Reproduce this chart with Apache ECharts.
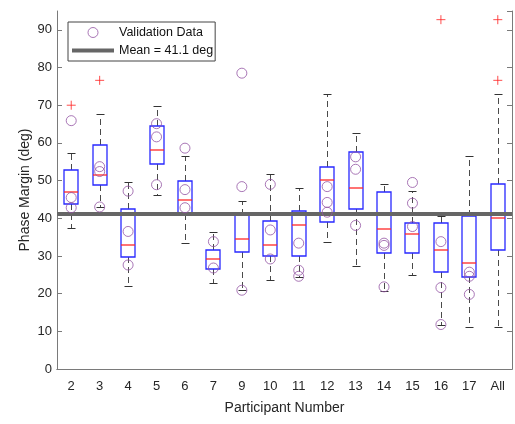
<!DOCTYPE html>
<html>
<head>
<meta charset="utf-8">
<script src="https://cdn.jsdelivr.net/npm/echarts@6/dist/echarts.min.js"></script>
<style>
html, body { margin: 0; padding: 0; background: #fff; }
#chart { width: 515px; height: 424px; }
</style>
</head>
<body>
<div id="chart"></div>
<script>
// participants on the x axis
var categories = ['2', '3', '4', '5', '6', '7', '9', '10', '11', '12', '13', '14', '15', '16', '17', 'All'];

// box statistics per participant (deg)
var whiskerLow  = [37.5, 43.0, 22.1, 46.1, 33.4, 22.9, 20.9, 23.6, 24.5, 33.6, 27.3, 20.8, 24.9, 11.8, 11.2, 11.2];
var q1          = [43.8, 48.9, 29.7, 54.5, 41.0, 26.6, 31.1, 30.0, 30.1, 39.1, 42.4, 30.8, 30.7, 25.7, 24.5, 31.5];
var median      = [47.0, 51.4, 33.0, 58.0, 44.8, 29.2, 34.6, 33.0, 38.2, 50.2, 48.1, 37.2, 35.9, 31.6, 28.0, 40.0];
var q3          = [52.7, 59.5, 42.5, 64.4, 49.9, 31.6, 40.8, 39.3, 42.0, 53.5, 57.6, 47.1, 38.7, 38.7, 40.5, 49.2];
var whiskerHigh = [57.3, 67.6, 49.5, 69.9, 56.6, 36.3, 44.7, 51.7, 48.1, 72.9, 62.5, 49.2, 47.2, 40.5, 56.6, 72.9];

// outliers [participant, value]
var outliers = [['2', 70.0], ['3', 76.6], ['16', 92.7], ['All', 92.7], ['All', 76.6]];

// validation data points [participant, value]
var validation = [
  ['2', 65.9], ['2', 45.5], ['2', 42.8],
  ['3', 53.7], ['3', 52.4], ['3', 43.0],
  ['4', 47.2], ['4', 36.5], ['4', 27.6],
  ['5', 65.1], ['5', 61.6], ['5', 48.9],
  ['6', 58.6], ['6', 47.6], ['6', 42.8],
  ['7', 33.8], ['7', 26.8],
  ['9', 78.5], ['9', 48.4], ['9', 20.9],
  ['10', 49.0], ['10', 36.9], ['10', 29.2],
  ['11', 33.4], ['11', 26.2], ['11', 24.6],
  ['12', 48.4], ['12', 44.2], ['12', 41.6],
  ['13', 56.3], ['13', 53.0], ['13', 38.1],
  ['14', 33.4], ['14', 32.8], ['14', 21.8],
  ['15', 49.5], ['15', 44.0], ['15', 37.8],
  ['16', 33.8], ['16', 21.6], ['16', 11.8],
  ['17', 25.7], ['17', 24.6], ['17', 19.8]
];

var meanValue = 41.1;

var boxData = categories.map(function (c, i) {
  return [i, whiskerLow[i], q1[i], median[i], q3[i], whiskerHigh[i]];
});

var font = 'Liberation Sans, Arial, Helvetica, sans-serif';
var axisColor = '#7a7a7a';
var purple = '#9455a4';

// pixel positions of one box, from the axes
function boxGeom(api) {
  var x = api.value(0);
  var band = api.size([1, 0])[0];
  var bw = Math.round(band * 0.5);
  var cx = Math.round(api.coord([x, api.value(3)])[0]);
  return {
    cx: cx,
    left: cx - bw / 2,
    bw: bw,
    cw: Math.round(band * 0.25),
    lo: Math.round(api.coord([x, api.value(1)])[1]),
    b1: Math.round(api.coord([x, api.value(2)])[1]),
    md: Math.round(api.coord([x, api.value(3)])[1]),
    b3: Math.round(api.coord([x, api.value(4)])[1]),
    hi: Math.round(api.coord([x, api.value(5)])[1])
  };
}

function renderWhiskers(params, api) {
  var g = boxGeom(api);
  var wx = g.cx + 0.5;
  var dash = { stroke: '#4a4a4a', lineWidth: 1, lineDash: [6, 4] };
  var cap = { stroke: '#333', lineWidth: 1 };
  return {
    type: 'group',
    children: [
      { type: 'line', shape: { x1: wx, y1: g.b3, x2: wx, y2: g.hi }, style: dash },
      { type: 'line', shape: { x1: wx, y1: g.b1, x2: wx, y2: g.lo }, style: dash },
      { type: 'line', shape: { x1: g.cx - g.cw / 2, y1: g.hi + 0.5, x2: g.cx + g.cw / 2 + 1, y2: g.hi + 0.5 }, style: cap },
      { type: 'line', shape: { x1: g.cx - g.cw / 2, y1: g.lo + 0.5, x2: g.cx + g.cw / 2 + 1, y2: g.lo + 0.5 }, style: cap }
    ]
  };
}

function renderBoxes(params, api) {
  var g = boxGeom(api);
  return {
    type: 'rect',
    shape: { x: g.left, y: g.b3, width: g.bw, height: g.b1 - g.b3 },
    style: { fill: 'none', stroke: '#2828ff', lineWidth: 1.3 }
  };
}

function renderMedians(params, api) {
  var g = boxGeom(api);
  return {
    type: 'line',
    shape: { x1: g.left, y1: g.md, x2: g.left + g.bw, y2: g.md },
    style: { stroke: '#ff2828', lineWidth: 1.3 }
  };
}

var chart = echarts.init(document.getElementById('chart'));

var option = {
  animation: false,
  textStyle: { fontFamily: font },
  grid: { left: 57, right: 3, top: 11, bottom: 55 },
  legend: {
    left: 68, top: 22,
    orient: 'vertical',
    itemWidth: 42, itemHeight: 10, itemGap: 5,
    padding: [4, 2, 4, 4],
    borderColor: '#444', borderWidth: 1,
    backgroundColor: '#fff',
    textStyle: { fontSize: 12.5, color: '#111', fontFamily: font },
    data: [
      { name: 'Validation Data', icon: 'circle',
        itemStyle: { color: '#fff', borderColor: purple, borderWidth: 1 } },
      { name: 'Mean = 41.1 deg', icon: 'path://M0,0L42,0L42,4L0,4Z',
        itemStyle: { color: '#666', borderWidth: 0 } }
    ]
  },
  xAxis: [{
    type: 'category',
    data: categories,
    position: 'bottom',
    name: 'Participant Number',
    nameLocation: 'middle',
    nameGap: 32,
    nameMoveOverlap: false,
    nameTextStyle: { fontSize: 14, color: '#262626', fontFamily: font },
    axisLine: { lineStyle: { color: axisColor } },
    axisTick: { inside: true, alignWithLabel: true, length: 5, lineStyle: { color: axisColor } },
    axisLabel: { fontSize: 13, color: '#262626', margin: 11, fontFamily: font },
    splitLine: { show: false }
  }, {
    type: 'category',
    data: categories,
    position: 'top',
    axisLine: { lineStyle: { color: axisColor } },
    axisTick: { inside: true, alignWithLabel: true, length: 5, lineStyle: { color: axisColor } },
    axisLabel: { show: false },
    splitLine: { show: false }
  }],
  yAxis: [{
    type: 'value',
    min: 0, max: 95, interval: 10,
    position: 'left',
    name: 'Phase Margin (deg)',
    nameLocation: 'middle',
    nameGap: 25,
    nameMoveOverlap: false,
    nameTextStyle: { fontSize: 14, color: '#262626', fontFamily: font },
    axisLine: { show: true, lineStyle: { color: axisColor } },
    axisTick: { show: true, inside: true, length: 5, lineStyle: { color: axisColor } },
    axisLabel: { fontSize: 13, color: '#262626', margin: 5, showMaxLabel: false, fontFamily: font },
    splitLine: { show: false }
  }, {
    type: 'value',
    min: 0, max: 95, interval: 10,
    position: 'right',
    axisLine: { show: true, lineStyle: { color: axisColor } },
    axisTick: { show: true, inside: true, length: 5, lineStyle: { color: axisColor } },
    axisLabel: { show: false },
    splitLine: { show: false }
  }],
  series: [{
    name: 'whiskers',
    type: 'custom',
    renderItem: renderWhiskers,
    encode: { x: 0, y: [1, 2, 3, 4, 5] },
    data: boxData,
    z: 2
  }, {
    name: 'boxes',
    type: 'custom',
    renderItem: renderBoxes,
    encode: { x: 0, y: [1, 2, 3, 4, 5] },
    data: boxData,
    z: 3
  }, {
    name: 'medians',
    type: 'custom',
    renderItem: renderMedians,
    encode: { x: 0, y: [1, 2, 3, 4, 5] },
    data: boxData,
    z: 3
  }, {
    name: 'outliers',
    type: 'scatter',
    symbol: 'path://M0,5L10,5M5,0L5,10',
    symbolSize: 9,
    itemStyle: { color: 'none', borderColor: '#ff2020', borderWidth: 1 },
    data: outliers,
    z: 4
  }, {
    name: 'Validation Data',
    type: 'scatter',
    symbol: 'circle',
    symbolSize: 10,
    itemStyle: { color: 'rgba(0,0,0,0)', borderColor: purple, borderWidth: 1 },
    data: validation,
    z: 5
  }, {
    name: 'Mean = 41.1 deg',
    type: 'line',
    symbol: 'none',
    data: [],
    itemStyle: { color: '#666' },
    lineStyle: { color: '#666', width: 4 },
    markLine: {
      silent: true,
      symbol: 'none',
      label: { show: false },
      lineStyle: { color: '#666', width: 4, type: 'solid' },
      data: [{ yAxis: meanValue }]
    },
    z: 6
  }]
};

chart.setOption(option);
</script>
</body>
</html>
